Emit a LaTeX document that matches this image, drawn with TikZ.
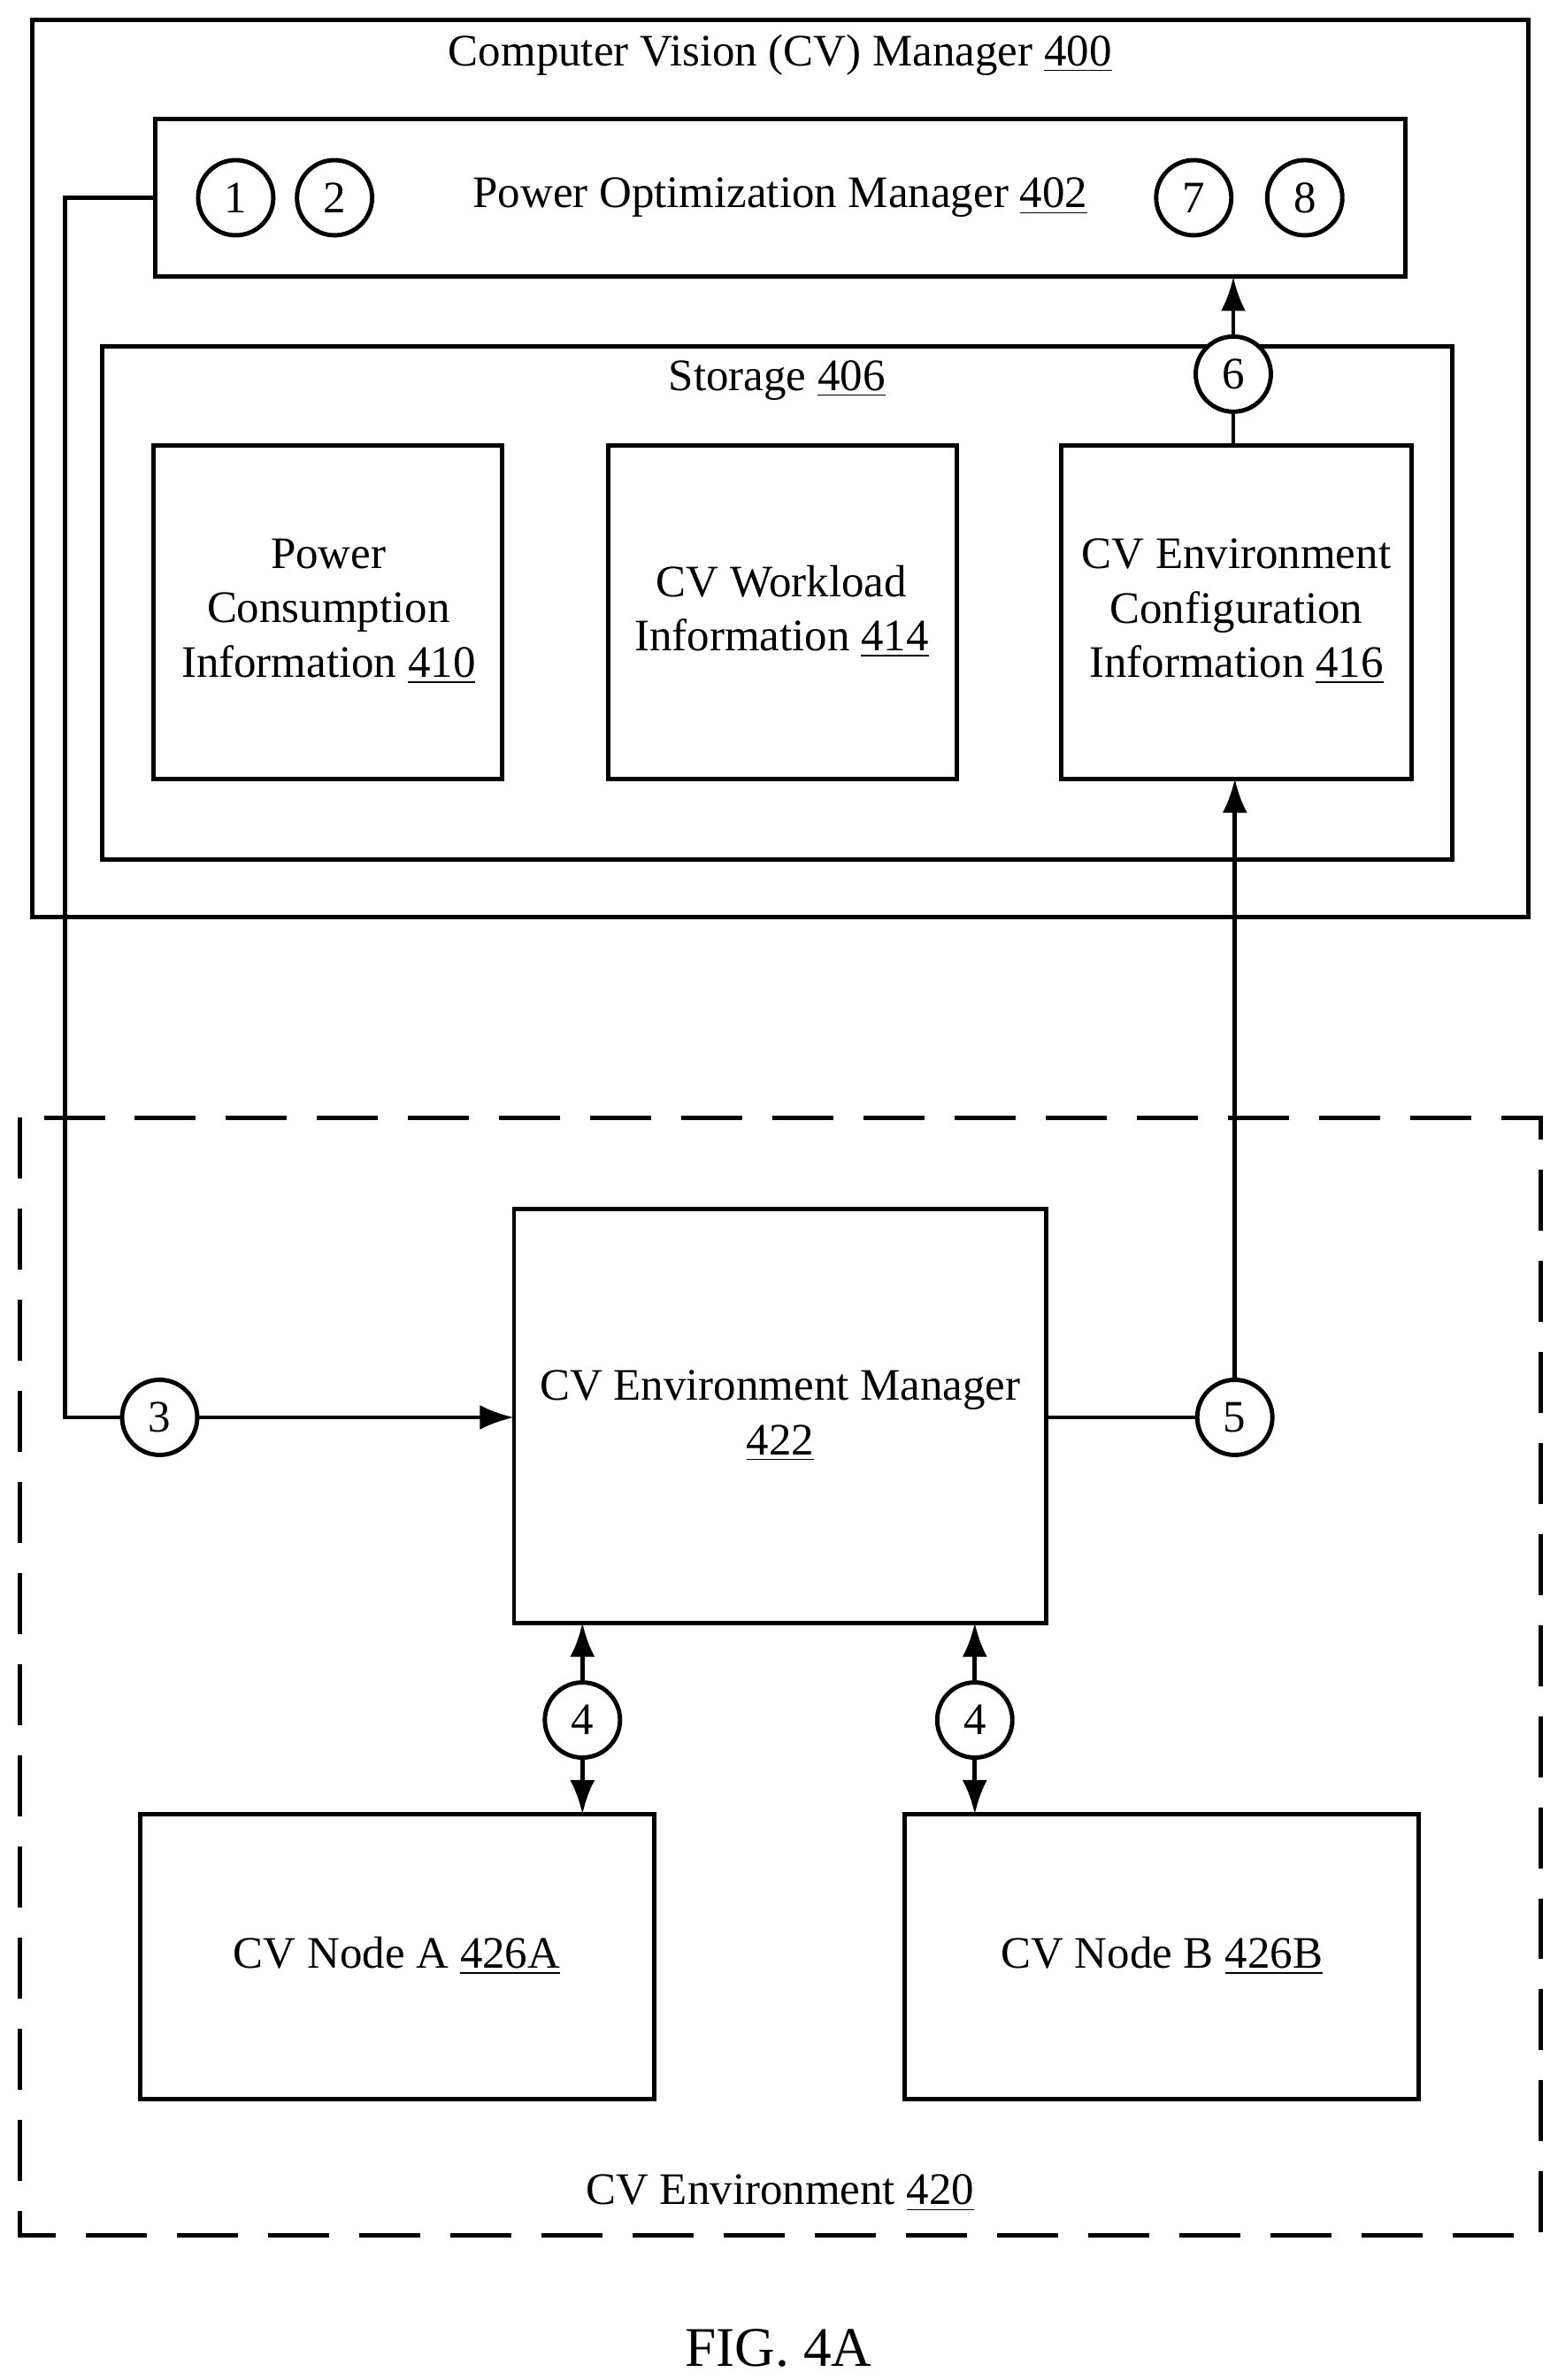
\documentclass[tikz,border=0pt]{standalone}
\usepackage{fontspec}
\setmainfont{Liberation Serif}
\usetikzlibrary{arrows.meta}
\begin{document}
\begin{tikzpicture}[x=0.01719cm,y=-0.01719cm,
  line width=1.4pt,
  every node/.style={font=\fontsize{14.5}{17.5}\selectfont},
  box/.style={draw,line width=1.4pt},
  stepc/.style={draw,circle,line width=1.4pt,minimum size=0.85cm,inner sep=0pt,fill=white},
  txt/.style={align=center},
  arr/.style={-{Latex[length=11pt,width=8pt]}},
  darr/.style={{Latex[length=11pt,width=8pt]}-{Latex[length=11pt,width=8pt]}}]
\useasboundingbox (0,0) rectangle (1024,1565);

% CV manager
\draw[box] (21,13) rectangle (1005,603);
\node[txt] (cvmlbl) at (513,36) {Computer Vision (CV) Manager \underline{400}};

% Power optimization manager
\draw[box] (102,78) rectangle (924,182);
\coordinate (pomL) at (102,130);
\coordinate (pomB) at (811,182);
\node[txt] (pomlbl) at (513,130) {Power Optimization Manager \underline{402}};
\node[stepc] (s1) at (155,130) {1};
\node[stepc] (s2) at (220,130) {2};
\node[stepc] (s7) at (785,130) {7};
\node[stepc] (s8) at (858,130) {8};

% Storage
\draw[box] (67,228) rectangle (955,565);
\node[txt] (stlbl) at (511,250) {Storage \underline{406}};
\draw[box] (101,293) rectangle (330,512);
\node[txt] (pci) at (216,402) {Power\\Consumption\\Information \underline{410}};
\draw[box] (400,293) rectangle (629,512);
\node[txt] (wli) at (514,402) {CV Workload\\Information \underline{414}};
\draw[box] (698,293) rectangle (928,512);
\node[txt] (eci) at (813,402) {CV Environment\\Configuration\\Information \underline{416}};
\coordinate (eciT) at (811,293);
\coordinate (eciB) at (812,512);

% CV environment
\draw[box,dash pattern=on 0.69cm off 0.34cm] (13,735) rectangle (1013,1470);
\node[txt] (envlbl) at (513,1442) {CV Environment \underline{420}};

\draw[box] (338,795) rectangle (688,1067);
\node[txt] (cvem) at (513,931) {CV Environment Manager\\\underline{422}};
\coordinate (cvemL) at (338,932);
\coordinate (cvemR) at (688,932);
\coordinate (cvemBa) at (383,1067);
\coordinate (cvemBb) at (641,1067);

\draw[box] (92,1193) rectangle (430,1380);
\node[txt] (nodeA) at (261,1286) {CV Node A \underline{426A}};
\draw[box] (595,1193) rectangle (933,1380);
\node[txt] (nodeB) at (764,1286) {CV Node B \underline{426B}};
\coordinate (nodeAT) at (383,1193);
\coordinate (nodeBT) at (641,1193);

% connectors
\draw[arr] (eciT) -- (pomB);
\node[stepc] (s6) at (811,246) {6};
\draw[arr] (pomL) -- (43,130) -- (43,932) -- (cvemL);
\node[stepc] (s3) at (105,932) {3};
\draw[arr] (cvemR) -- (812,932) -- (eciB);
\node[stepc] (s5) at (812,932) {5};
\draw[darr] (cvemBa) -- (nodeAT);
\node[stepc] (s4a) at (383,1131) {4};
\draw[darr] (cvemBb) -- (nodeBT);
\node[stepc] (s4b) at (641,1131) {4};

\node[font=\fontsize{18}{21}\selectfont,inner sep=1pt] (fig) at (512,1544) {FIG. 4A};
\end{tikzpicture}
\end{document}
